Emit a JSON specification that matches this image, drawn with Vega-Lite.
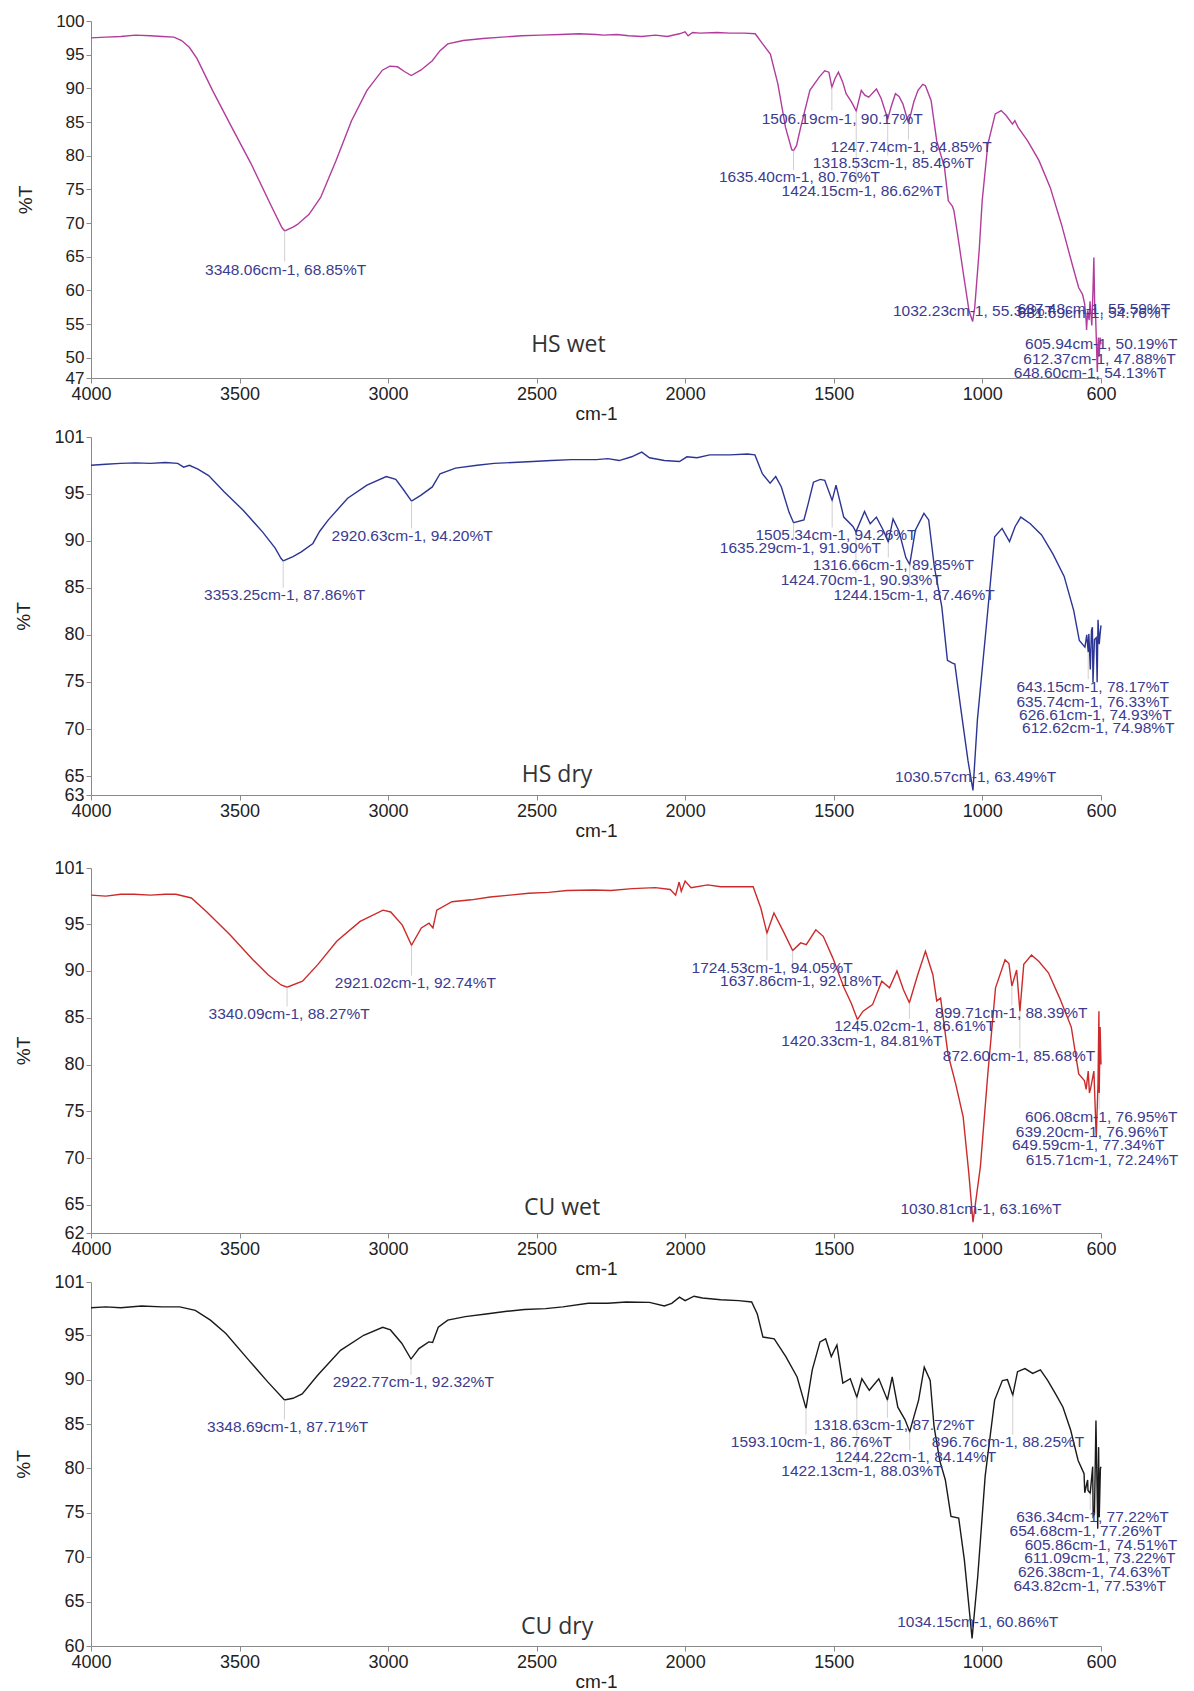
{
"$schema": "https://vega.github.io/schema/vega-lite/v6.json",
"padding": {"left": 14, "top": 12, "right": 5, "bottom": 0},
"background": "white",
"datasets": {
"p1": [{"wn":4000,"t":97.5},{"wn":3950,"t":97.6},{"wn":3900,"t":97.7},{"wn":3850,"t":97.9},{"wn":3800,"t":97.8},{"wn":3760,"t":97.7},{"wn":3721,"t":97.6},{"wn":3695,"t":97.1},{"wn":3669,"t":96.1},{"wn":3643,"t":94.4},{"wn":3591,"t":89.7},{"wn":3526,"t":84.2},{"wn":3461,"t":78.8},{"wn":3396,"t":72.8},{"wn":3357,"t":69.3},{"wn":3348,"t":68.85},{"wn":3320,"t":69.4},{"wn":3305,"t":69.8},{"wn":3266,"t":71.3},{"wn":3227,"t":73.8},{"wn":3175,"t":79.3},{"wn":3123,"t":85.2},{"wn":3071,"t":89.7},{"wn":3019,"t":92.7},{"wn":2994,"t":93.3},{"wn":2968,"t":93.2},{"wn":2945,"t":92.5},{"wn":2922,"t":91.9},{"wn":2890,"t":92.7},{"wn":2851,"t":94.1},{"wn":2825,"t":95.6},{"wn":2799,"t":96.6},{"wn":2747,"t":97.1},{"wn":2680,"t":97.4},{"wn":2617,"t":97.6},{"wn":2550,"t":97.8},{"wn":2487,"t":97.9},{"wn":2420,"t":98.0},{"wn":2357,"t":98.1},{"wn":2300,"t":98.0},{"wn":2274,"t":97.9},{"wn":2230,"t":98.0},{"wn":2190,"t":97.8},{"wn":2146,"t":97.7},{"wn":2100,"t":97.9},{"wn":2060,"t":97.7},{"wn":2019,"t":98.1},{"wn":2000,"t":98.4},{"wn":1990,"t":97.8},{"wn":1975,"t":98.3},{"wn":1950,"t":98.2},{"wn":1892,"t":98.3},{"wn":1850,"t":98.2},{"wn":1800,"t":98.2},{"wn":1764,"t":98.1},{"wn":1739,"t":96.6},{"wn":1713,"t":95.1},{"wn":1688,"t":90.7},{"wn":1662,"t":84.2},{"wn":1641,"t":80.9},{"wn":1635,"t":80.76},{"wn":1625,"t":81.5},{"wn":1611,"t":84.2},{"wn":1580,"t":89.7},{"wn":1548,"t":91.7},{"wn":1530,"t":92.6},{"wn":1516,"t":92.4},{"wn":1506,"t":90.17},{"wn":1495,"t":91.5},{"wn":1484,"t":92.4},{"wn":1470,"t":91.0},{"wn":1458,"t":89.2},{"wn":1440,"t":88.0},{"wn":1424,"t":86.62},{"wn":1407,"t":89.7},{"wn":1395,"t":89.0},{"wn":1382,"t":88.7},{"wn":1356,"t":89.9},{"wn":1340,"t":88.5},{"wn":1318,"t":85.46},{"wn":1305,"t":87.5},{"wn":1292,"t":89.2},{"wn":1280,"t":88.8},{"wn":1267,"t":87.7},{"wn":1248,"t":84.85},{"wn":1230,"t":88.0},{"wn":1216,"t":89.7},{"wn":1200,"t":90.6},{"wn":1191,"t":90.4},{"wn":1172,"t":88.2},{"wn":1153,"t":82.2},{"wn":1127,"t":78.3},{"wn":1114,"t":73.3},{"wn":1100,"t":72.5},{"wn":1095,"t":71.8},{"wn":1083,"t":68.4},{"wn":1063,"t":62.4},{"wn":1044,"t":56.9},{"wn":1032,"t":55.4},{"wn":1025,"t":57.5},{"wn":1019,"t":60.9},{"wn":1010,"t":66.0},{"wn":1000,"t":73.3},{"wn":981,"t":81.7},{"wn":956,"t":86.2},{"wn":936,"t":86.7},{"wn":920,"t":86.0},{"wn":898,"t":84.7},{"wn":890,"t":85.2},{"wn":879,"t":84.2},{"wn":847,"t":82.2},{"wn":809,"t":79.3},{"wn":771,"t":75.3},{"wn":733,"t":69.8},{"wn":694,"t":63.4},{"wn":675,"t":60.4},{"wn":662,"t":59.4},{"wn":655,"t":58.0},{"wn":650,"t":55.5},{"wn":648.6,"t":54.13},{"wn":645,"t":57.0},{"wn":640,"t":55.6},{"wn":637,"t":58.4},{"wn":631,"t":54.8},{"wn":627,"t":60.0},{"wn":624,"t":64.9},{"wn":621,"t":57.0},{"wn":618,"t":56.0},{"wn":612.4,"t":47.88},{"wn":609,"t":53.0},{"wn":606,"t":50.19},{"wn":603,"t":53.0},{"wn":600,"t":52.0}],
"p2": [{"wn":4000,"t":98.0},{"wn":3950,"t":98.1},{"wn":3900,"t":98.2},{"wn":3851,"t":98.25},{"wn":3800,"t":98.2},{"wn":3750,"t":98.3},{"wn":3708,"t":98.2},{"wn":3688,"t":97.8},{"wn":3669,"t":98.0},{"wn":3640,"t":97.6},{"wn":3604,"t":96.9},{"wn":3552,"t":95.2},{"wn":3487,"t":93.2},{"wn":3422,"t":90.9},{"wn":3380,"t":89.2},{"wn":3360,"t":88.1},{"wn":3353,"t":87.86},{"wn":3320,"t":88.3},{"wn":3292,"t":88.8},{"wn":3253,"t":89.7},{"wn":3230,"t":91.0},{"wn":3201,"t":92.2},{"wn":3136,"t":94.5},{"wn":3071,"t":95.9},{"wn":3006,"t":96.8},{"wn":2974,"t":96.5},{"wn":2948,"t":95.4},{"wn":2921,"t":94.2},{"wn":2890,"t":94.8},{"wn":2851,"t":95.7},{"wn":2825,"t":97.1},{"wn":2773,"t":97.7},{"wn":2700,"t":98.0},{"wn":2643,"t":98.2},{"wn":2580,"t":98.3},{"wn":2513,"t":98.4},{"wn":2450,"t":98.5},{"wn":2383,"t":98.6},{"wn":2299,"t":98.6},{"wn":2260,"t":98.7},{"wn":2222,"t":98.5},{"wn":2180,"t":98.9},{"wn":2146,"t":99.4},{"wn":2120,"t":98.8},{"wn":2070,"t":98.5},{"wn":2019,"t":98.4},{"wn":1994,"t":98.9},{"wn":1960,"t":98.8},{"wn":1917,"t":99.1},{"wn":1850,"t":99.1},{"wn":1790,"t":99.2},{"wn":1765,"t":99.1},{"wn":1740,"t":97.1},{"wn":1714,"t":96.1},{"wn":1695,"t":96.8},{"wn":1676,"t":95.7},{"wn":1650,"t":93.0},{"wn":1635,"t":91.9},{"wn":1600,"t":92.2},{"wn":1585,"t":94.0},{"wn":1568,"t":96.2},{"wn":1545,"t":96.5},{"wn":1530,"t":96.4},{"wn":1505,"t":94.26},{"wn":1492,"t":95.9},{"wn":1466,"t":92.5},{"wn":1435,"t":91.5},{"wn":1425,"t":90.93},{"wn":1396,"t":93.1},{"wn":1377,"t":91.8},{"wn":1356,"t":92.5},{"wn":1333,"t":91.1},{"wn":1316,"t":89.85},{"wn":1300,"t":92.3},{"wn":1280,"t":91.0},{"wn":1257,"t":88.2},{"wn":1244,"t":87.46},{"wn":1225,"t":91.1},{"wn":1196,"t":92.9},{"wn":1180,"t":92.2},{"wn":1161,"t":87.2},{"wn":1136,"t":83.0},{"wn":1117,"t":77.3},{"wn":1100,"t":77.0},{"wn":1092,"t":76.9},{"wn":1073,"t":72.4},{"wn":1048,"t":66.7},{"wn":1031,"t":63.49},{"wn":1016,"t":71.0},{"wn":984,"t":81.6},{"wn":958,"t":90.4},{"wn":933,"t":91.3},{"wn":908,"t":89.9},{"wn":889,"t":91.5},{"wn":870,"t":92.5},{"wn":838,"t":91.8},{"wn":800,"t":90.6},{"wn":762,"t":88.6},{"wn":724,"t":86.2},{"wn":692,"t":82.6},{"wn":673,"t":79.4},{"wn":654,"t":78.7},{"wn":648,"t":80.0},{"wn":643,"t":78.17},{"wn":641,"t":80.1},{"wn":636,"t":76.33},{"wn":632,"t":80.5},{"wn":629,"t":80.8},{"wn":627,"t":74.93},{"wn":622,"t":79.5},{"wn":616,"t":79.7},{"wn":613,"t":74.98},{"wn":610,"t":81.6},{"wn":606,"t":79.0},{"wn":603,"t":80.1},{"wn":600,"t":81.0}],
"p3": [{"wn":4000,"t":98.1},{"wn":3950,"t":98.0},{"wn":3900,"t":98.2},{"wn":3855,"t":98.2},{"wn":3800,"t":98.1},{"wn":3750,"t":98.2},{"wn":3714,"t":98.2},{"wn":3662,"t":97.8},{"wn":3610,"t":96.3},{"wn":3533,"t":93.9},{"wn":3455,"t":91.2},{"wn":3404,"t":89.6},{"wn":3360,"t":88.5},{"wn":3340,"t":88.27},{"wn":3288,"t":88.9},{"wn":3236,"t":90.7},{"wn":3172,"t":93.2},{"wn":3094,"t":95.3},{"wn":3017,"t":96.5},{"wn":2991,"t":96.3},{"wn":2952,"t":94.9},{"wn":2921,"t":92.74},{"wn":2888,"t":94.6},{"wn":2862,"t":95.1},{"wn":2849,"t":94.6},{"wn":2836,"t":96.5},{"wn":2785,"t":97.4},{"wn":2720,"t":97.6},{"wn":2656,"t":97.9},{"wn":2590,"t":98.1},{"wn":2527,"t":98.3},{"wn":2460,"t":98.4},{"wn":2397,"t":98.6},{"wn":2306,"t":98.65},{"wn":2250,"t":98.6},{"wn":2178,"t":98.8},{"wn":2100,"t":98.9},{"wn":2050,"t":98.7},{"wn":2032,"t":98.1},{"wn":2020,"t":99.5},{"wn":2013,"t":98.5},{"wn":2000,"t":99.6},{"wn":1980,"t":98.9},{"wn":1924,"t":99.2},{"wn":1880,"t":99.0},{"wn":1820,"t":99.0},{"wn":1771,"t":99.0},{"wn":1745,"t":96.7},{"wn":1724.5,"t":94.05},{"wn":1701,"t":96.2},{"wn":1669,"t":94.2},{"wn":1638,"t":92.18},{"wn":1611,"t":93.0},{"wn":1592,"t":92.8},{"wn":1560,"t":94.4},{"wn":1535,"t":93.7},{"wn":1503,"t":91.4},{"wn":1465,"t":88.2},{"wn":1440,"t":86.5},{"wn":1420,"t":84.81},{"wn":1401,"t":85.7},{"wn":1369,"t":86.4},{"wn":1338,"t":88.9},{"wn":1312,"t":88.2},{"wn":1287,"t":90.0},{"wn":1265,"t":88.0},{"wn":1245,"t":86.61},{"wn":1217,"t":89.6},{"wn":1191,"t":92.1},{"wn":1166,"t":89.6},{"wn":1153,"t":86.8},{"wn":1140,"t":87.1},{"wn":1115,"t":81.1},{"wn":1089,"t":77.9},{"wn":1064,"t":74.4},{"wn":1045,"t":68.4},{"wn":1031,"t":63.16},{"wn":1006,"t":69.1},{"wn":981,"t":79.0},{"wn":955,"t":88.2},{"wn":923,"t":91.2},{"wn":910,"t":90.8},{"wn":900,"t":88.39},{"wn":884,"t":90.1},{"wn":873,"t":85.68},{"wn":860,"t":90.7},{"wn":834,"t":91.7},{"wn":809,"t":91.0},{"wn":777,"t":89.8},{"wn":739,"t":87.1},{"wn":700,"t":84.0},{"wn":675,"t":79.0},{"wn":656,"t":78.3},{"wn":650,"t":77.34},{"wn":643,"t":79.3},{"wn":639,"t":76.96},{"wn":634,"t":77.6},{"wn":624,"t":79.3},{"wn":616,"t":72.24},{"wn":610,"t":78.0},{"wn":607,"t":85.7},{"wn":606,"t":76.95},{"wn":603,"t":84.0},{"wn":600,"t":80.0}],
"p4": [{"wn":4000,"t":98.1},{"wn":3950,"t":98.2},{"wn":3900,"t":98.1},{"wn":3830,"t":98.3},{"wn":3760,"t":98.2},{"wn":3701,"t":98.2},{"wn":3649,"t":97.8},{"wn":3598,"t":96.7},{"wn":3546,"t":95.2},{"wn":3469,"t":92.2},{"wn":3405,"t":89.75},{"wn":3348.7,"t":87.71},{"wn":3320,"t":87.9},{"wn":3289,"t":88.4},{"wn":3237,"t":90.5},{"wn":3160,"t":93.3},{"wn":3082,"t":95.0},{"wn":3018,"t":95.9},{"wn":2992,"t":95.6},{"wn":2954,"t":94.1},{"wn":2922.8,"t":92.32},{"wn":2896,"t":93.5},{"wn":2863,"t":94.25},{"wn":2850,"t":94.2},{"wn":2831,"t":95.9},{"wn":2799,"t":96.7},{"wn":2740,"t":97.1},{"wn":2670,"t":97.4},{"wn":2600,"t":97.7},{"wn":2541,"t":97.9},{"wn":2470,"t":98.0},{"wn":2412,"t":98.2},{"wn":2326,"t":98.6},{"wn":2260,"t":98.6},{"wn":2198,"t":98.75},{"wn":2120,"t":98.7},{"wn":2070,"t":98.3},{"wn":2045,"t":98.6},{"wn":2019,"t":99.3},{"wn":2000,"t":98.9},{"wn":1970,"t":99.4},{"wn":1942,"t":99.2},{"wn":1880,"t":99.0},{"wn":1820,"t":98.9},{"wn":1776,"t":98.75},{"wn":1757,"t":97.4},{"wn":1738,"t":94.8},{"wn":1700,"t":94.6},{"wn":1661,"t":92.6},{"wn":1623,"t":90.3},{"wn":1593,"t":86.76},{"wn":1572,"t":91.1},{"wn":1546,"t":94.25},{"wn":1527,"t":94.6},{"wn":1508,"t":92.6},{"wn":1489,"t":93.9},{"wn":1469,"t":89.6},{"wn":1444,"t":90.1},{"wn":1422,"t":88.03},{"wn":1405,"t":90.1},{"wn":1380,"t":88.8},{"wn":1348,"t":90.1},{"wn":1319,"t":87.72},{"wn":1303,"t":90.3},{"wn":1284,"t":86.9},{"wn":1260,"t":85.5},{"wn":1244,"t":84.14},{"wn":1214,"t":87.7},{"wn":1195,"t":91.4},{"wn":1175,"t":89.9},{"wn":1162,"t":84.7},{"wn":1143,"t":80.9},{"wn":1124,"t":78.7},{"wn":1105,"t":74.6},{"wn":1079,"t":74.4},{"wn":1060,"t":69.7},{"wn":1034,"t":60.86},{"wn":1015,"t":67.8},{"wn":990,"t":79.1},{"wn":958,"t":87.7},{"wn":932,"t":89.9},{"wn":915,"t":90.0},{"wn":897,"t":88.25},{"wn":881,"t":90.9},{"wn":856,"t":91.25},{"wn":830,"t":90.7},{"wn":804,"t":91.1},{"wn":779,"t":89.9},{"wn":753,"t":88.4},{"wn":728,"t":86.9},{"wn":702,"t":84.3},{"wn":677,"t":80.9},{"wn":657,"t":79.4},{"wn":654.7,"t":77.26},{"wn":645,"t":78.7},{"wn":643.8,"t":77.53},{"wn":636.3,"t":77.22},{"wn":628,"t":80.2},{"wn":626.4,"t":74.63},{"wn":622,"t":74.9},{"wn":617,"t":85.4},{"wn":611,"t":73.22},{"wn":608,"t":82.4},{"wn":605.9,"t":74.51},{"wn":602,"t":80.0},{"wn":600,"t":80.2}],
"l1": [{"label":"3348.06cm-1, 68.85%T","wn":3348,"pt":68.85,"lx":3345,"ly":63.1,"le":64.3},{"label":"1506.19cm-1, 90.17%T","wn":1506,"pt":90.17,"lx":1471,"ly":85.5,"le":86.7},{"label":"1247.74cm-1, 84.85%T","wn":1248,"pt":84.85,"lx":1239,"ly":81.25,"le":82.4},{"label":"1318.53cm-1, 85.46%T","wn":1318,"pt":85.46,"lx":1299,"ly":78.9,"le":80.0},{"label":"1635.40cm-1, 80.76%T","wn":1635,"pt":80.76,"lx":1615,"ly":76.8,"le":77.9},{"label":"1424.15cm-1, 86.62%T","wn":1424,"pt":86.62,"lx":1404,"ly":74.7,"le":75.8},{"label":"1032.23cm-1, 55.34%T","wn":1032,"pt":55.4,"lx":1029,"ly":56.9,"le":55.4},{"label":"637.48cm-1, 55.59%T","wn":637,"pt":58.4,"lx":624,"ly":57.2,"le":58.4},{"label":"631.69cm-1, 54.76%T","wn":631,"pt":54.8,"lx":624,"ly":56.7,"le":54.8},{"label":"605.94cm-1, 50.19%T","wn":606,"pt":50.19,"lx":599,"ly":52.0,"le":50.19},{"label":"612.37cm-1, 47.88%T","wn":612.4,"pt":47.88,"lx":605,"ly":49.75,"le":47.88},{"label":"648.60cm-1, 54.13%T","wn":648.6,"pt":54.13,"lx":637,"ly":47.8,"le":54.13}],
"l2": [{"label":"3353.25cm-1, 87.86%T","wn":3353,"pt":87.86,"lx":3348,"ly":84.2,"le":85.0},{"label":"2920.63cm-1, 94.20%T","wn":2921,"pt":94.2,"lx":2919,"ly":90.5,"le":91.3},{"label":"1505.34cm-1, 94.26%T","wn":1505,"pt":94.26,"lx":1492,"ly":90.6,"le":91.4},{"label":"1635.29cm-1, 91.90%T","wn":1635,"pt":91.9,"lx":1612,"ly":89.2,"le":90.0},{"label":"1316.66cm-1, 89.85%T","wn":1316,"pt":89.85,"lx":1299,"ly":87.4,"le":88.2},{"label":"1424.70cm-1, 90.93%T","wn":1425,"pt":90.93,"lx":1407,"ly":85.8,"le":86.6},{"label":"1244.15cm-1, 87.46%T","wn":1244,"pt":87.46,"lx":1229,"ly":84.2,"le":85.0},{"label":"643.15cm-1, 78.17%T","wn":643,"pt":78.17,"lx":628,"ly":74.5,"le":75.3},{"label":"635.74cm-1, 76.33%T","wn":636,"pt":76.33,"lx":628,"ly":72.9,"le":76.33},{"label":"626.61cm-1, 74.93%T","wn":627,"pt":74.93,"lx":619,"ly":71.5,"le":74.93},{"label":"612.62cm-1, 74.98%T","wn":613,"pt":74.98,"lx":609,"ly":70.1,"le":74.98},{"label":"1030.57cm-1, 63.49%T","wn":1031,"pt":63.49,"lx":1022,"ly":64.9,"le":63.49}],
"l3": [{"label":"3340.09cm-1, 88.27%T","wn":3340,"pt":88.27,"lx":3333,"ly":85.4,"le":86.2},{"label":"2921.02cm-1, 92.74%T","wn":2921,"pt":92.74,"lx":2908,"ly":88.7,"le":89.5},{"label":"1724.53cm-1, 94.05%T","wn":1724.5,"pt":94.05,"lx":1707,"ly":90.3,"le":91.1},{"label":"1637.86cm-1, 92.18%T","wn":1638,"pt":92.18,"lx":1611,"ly":88.9,"le":89.7},{"label":"899.71cm-1, 88.39%T","wn":900,"pt":88.39,"lx":902,"ly":85.5,"le":86.3},{"label":"1245.02cm-1, 86.61%T","wn":1245,"pt":86.61,"lx":1227,"ly":84.1,"le":84.9},{"label":"1420.33cm-1, 84.81%T","wn":1420,"pt":84.81,"lx":1405,"ly":82.5,"le":83.3},{"label":"872.60cm-1, 85.68%T","wn":873,"pt":85.68,"lx":876,"ly":80.9,"le":81.7},{"label":"606.08cm-1, 76.95%T","wn":606,"pt":76.95,"lx":599,"ly":74.4,"le":75.2},{"label":"639.20cm-1, 76.96%T","wn":639,"pt":76.96,"lx":630,"ly":72.8,"le":76.96},{"label":"649.59cm-1, 77.34%T","wn":650,"pt":77.34,"lx":643,"ly":71.4,"le":77.34},{"label":"615.71cm-1, 72.24%T","wn":616,"pt":72.24,"lx":597,"ly":69.8,"le":72.24},{"label":"1030.81cm-1, 63.16%T","wn":1031,"pt":63.16,"lx":1004,"ly":64.6,"le":63.16}],
"l4": [{"label":"3348.69cm-1, 87.71%T","wn":3348.7,"pt":87.71,"lx":3338,"ly":84.7,"le":85.5},{"label":"2922.77cm-1, 92.32%T","wn":2922.8,"pt":92.32,"lx":2915,"ly":89.75,"le":90.55},{"label":"1318.63cm-1, 87.72%T","wn":1319,"pt":87.72,"lx":1297,"ly":84.9,"le":85.7},{"label":"1593.10cm-1, 86.76%T","wn":1593,"pt":86.76,"lx":1575,"ly":83.0,"le":83.8},{"label":"896.76cm-1, 88.25%T","wn":897,"pt":88.25,"lx":913,"ly":83.0,"le":83.8},{"label":"1244.22cm-1, 84.14%T","wn":1244,"pt":84.14,"lx":1224,"ly":81.3,"le":82.1},{"label":"1422.13cm-1, 88.03%T","wn":1422,"pt":88.03,"lx":1405,"ly":79.7,"le":80.5},{"label":"636.34cm-1, 77.22%T","wn":636.3,"pt":77.22,"lx":629,"ly":74.5,"le":75.3},{"label":"654.68cm-1, 77.26%T","wn":654.7,"pt":77.26,"lx":651,"ly":72.9,"le":77.26},{"label":"605.86cm-1, 74.51%T","wn":605.9,"pt":74.51,"lx":600,"ly":71.4,"le":74.51},{"label":"611.09cm-1, 73.22%T","wn":611,"pt":73.22,"lx":604,"ly":69.9,"le":73.22},{"label":"626.38cm-1, 74.63%T","wn":626.4,"pt":74.63,"lx":623,"ly":68.3,"le":74.63},{"label":"643.82cm-1, 77.53%T","wn":643.8,"pt":77.53,"lx":638,"ly":66.8,"le":77.53},{"label":"1034.15cm-1, 60.86%T","wn":1034,"pt":60.86,"lx":1015,"ly":62.75,"le":60.86}]
},
"vconcat": [
{"spacing": 5, "vconcat": [
{"width": 1010, "height": 357, "layer": [
 {"data": {"name": "p1"}, "mark": {"type": "line", "color": "#b23c9c", "strokeWidth": 1.4}, "encoding": {
  "x": {"field": "wn", "type": "quantitative", "title": "cm-1", "scale": {"domain": [600, 4000], "reverse": true, "nice": false, "zero": false}, "axis": {"values": [4000,3500,3000,2500,2000,1500,1000,600], "format": "d"}},
  "y": {"field": "t", "type": "quantitative", "title": "%T", "scale": {"domain": [47, 100], "nice": false, "zero": false}, "axis": {"values": [47,50,55,60,65,70,75,80,85,90,95,100], "format": "d", "labelOverlap": false, "labelFlush": false, "labelFontSize": 17}}}},
 {"data": {"name": "l1"}, "mark": {"type": "rule", "color": "#c4c4c4", "strokeWidth": 0.8}, "encoding": {
  "x": {"field": "wn", "type": "quantitative", "title": "cm-1", "axis": {"values": [4000,3500,3000,2500,2000,1500,1000,600], "format": "d"}}, "y": {"field": "pt", "type": "quantitative", "title": "%T", "axis": {"values": [47,50,55,60,65,70,75,80,85,90,95,100], "format": "d", "labelOverlap": false, "labelFlush": false, "labelFontSize": 17}}, "x2": {"field": "wn"}, "y2": {"field": "le"}}},
 {"data": {"name": "l1"}, "mark": {"type": "text", "font": "Liberation Sans", "fontSize": 15.5, "color": "#3b3b8f", "align": "center", "baseline": "middle"}, "encoding": {
  "x": {"field": "lx", "type": "quantitative", "title": "cm-1", "axis": {"values": [4000,3500,3000,2500,2000,1500,1000,600], "format": "d"}}, "y": {"field": "ly", "type": "quantitative", "title": "%T", "axis": {"values": [47,50,55,60,65,70,75,80,85,90,95,100], "format": "d", "labelOverlap": false, "labelFlush": false, "labelFontSize": 17}}, "text": {"field": "label"}}},
 {"data": {"values": [{"lx": 2393, "ly": 51.9, "name": "HS wet"}]}, "mark": {"type": "text", "font": "Open Sans", "fontSize": 23, "color": "#333333", "align": "center", "baseline": "middle"}, "encoding": {
  "x": {"field": "lx", "type": "quantitative", "title": "cm-1", "axis": {"values": [4000,3500,3000,2500,2000,1500,1000,600], "format": "d"}}, "y": {"field": "ly", "type": "quantitative", "title": "%T", "axis": {"values": [47,50,55,60,65,70,75,80,85,90,95,100], "format": "d", "labelOverlap": false, "labelFlush": false, "labelFontSize": 17}}, "text": {"field": "name"}}}
]},
{"width": 1010, "height": 358, "layer": [
 {"data": {"name": "p2"}, "mark": {"type": "line", "color": "#2d3593", "strokeWidth": 1.4}, "encoding": {
  "x": {"field": "wn", "type": "quantitative", "title": "cm-1", "scale": {"domain": [600, 4000], "reverse": true, "nice": false, "zero": false}, "axis": {"values": [4000,3500,3000,2500,2000,1500,1000,600], "format": "d"}},
  "y": {"field": "t", "type": "quantitative", "title": "%T", "scale": {"domain": [63, 101], "nice": false, "zero": false}, "axis": {"values": [63,65,70,75,80,85,90,95,101], "format": "d"}}}},
 {"data": {"name": "l2"}, "mark": {"type": "rule", "color": "#c4c4c4", "strokeWidth": 0.8}, "encoding": {
  "x": {"field": "wn", "type": "quantitative", "title": "cm-1"}, "y": {"field": "pt", "type": "quantitative", "title": "%T"}, "x2": {"field": "wn"}, "y2": {"field": "le"}}},
 {"data": {"name": "l2"}, "mark": {"type": "text", "font": "Liberation Sans", "fontSize": 15.5, "color": "#3b3b8f", "align": "center", "baseline": "middle"}, "encoding": {
  "x": {"field": "lx", "type": "quantitative", "title": "cm-1"}, "y": {"field": "ly", "type": "quantitative", "title": "%T"}, "text": {"field": "label"}}},
 {"data": {"values": [{"lx": 2431, "ly": 65.1, "name": "HS dry"}]}, "mark": {"type": "text", "font": "Open Sans", "fontSize": 23, "color": "#333333", "align": "center", "baseline": "middle"}, "encoding": {
  "x": {"field": "lx", "type": "quantitative", "title": "cm-1"}, "y": {"field": "ly", "type": "quantitative", "title": "%T"}, "text": {"field": "name"}}}
]}
]},
{"spacing": -5, "vconcat": [
{"width": 1010, "height": 365, "layer": [
 {"data": {"name": "p3"}, "mark": {"type": "line", "color": "#cc2b2b", "strokeWidth": 1.4}, "encoding": {
  "x": {"field": "wn", "type": "quantitative", "title": "cm-1", "scale": {"domain": [600, 4000], "reverse": true, "nice": false, "zero": false}, "axis": {"values": [4000,3500,3000,2500,2000,1500,1000,600], "format": "d"}},
  "y": {"field": "t", "type": "quantitative", "title": "%T", "scale": {"domain": [62, 101], "nice": false, "zero": false}, "axis": {"values": [62,65,70,75,80,85,90,95,101], "format": "d"}}}},
 {"data": {"name": "l3"}, "mark": {"type": "rule", "color": "#c4c4c4", "strokeWidth": 0.8}, "encoding": {
  "x": {"field": "wn", "type": "quantitative", "title": "cm-1"}, "y": {"field": "pt", "type": "quantitative", "title": "%T"}, "x2": {"field": "wn"}, "y2": {"field": "le"}}},
 {"data": {"name": "l3"}, "mark": {"type": "text", "font": "Liberation Sans", "fontSize": 15.5, "color": "#3b3b8f", "align": "center", "baseline": "middle"}, "encoding": {
  "x": {"field": "lx", "type": "quantitative", "title": "cm-1"}, "y": {"field": "ly", "type": "quantitative", "title": "%T"}, "text": {"field": "label"}}},
 {"data": {"values": [{"lx": 2414, "ly": 64.7, "name": "CU wet"}]}, "mark": {"type": "text", "font": "Open Sans", "fontSize": 23, "color": "#333333", "align": "center", "baseline": "middle"}, "encoding": {
  "x": {"field": "lx", "type": "quantitative", "title": "cm-1"}, "y": {"field": "ly", "type": "quantitative", "title": "%T"}, "text": {"field": "name"}}}
]},
{"width": 1010, "height": 364, "layer": [
 {"data": {"name": "p4"}, "mark": {"type": "line", "color": "#1a1a1a", "strokeWidth": 1.4}, "encoding": {
  "x": {"field": "wn", "type": "quantitative", "title": "cm-1", "scale": {"domain": [600, 4000], "reverse": true, "nice": false, "zero": false}, "axis": {"values": [4000,3500,3000,2500,2000,1500,1000,600], "format": "d"}},
  "y": {"field": "t", "type": "quantitative", "title": "%T", "scale": {"domain": [60, 101], "nice": false, "zero": false}, "axis": {"values": [60,65,70,75,80,85,90,95,101], "format": "d"}}}},
 {"data": {"name": "l4"}, "mark": {"type": "rule", "color": "#c4c4c4", "strokeWidth": 0.8}, "encoding": {
  "x": {"field": "wn", "type": "quantitative", "title": "cm-1"}, "y": {"field": "pt", "type": "quantitative", "title": "%T"}, "x2": {"field": "wn"}, "y2": {"field": "le"}}},
 {"data": {"name": "l4"}, "mark": {"type": "text", "font": "Liberation Sans", "fontSize": 15.5, "color": "#3b3b8f", "align": "center", "baseline": "middle"}, "encoding": {
  "x": {"field": "lx", "type": "quantitative", "title": "cm-1"}, "y": {"field": "ly", "type": "quantitative", "title": "%T"}, "text": {"field": "label"}}},
 {"data": {"values": [{"lx": 2431, "ly": 62.1, "name": "CU dry"}]}, "mark": {"type": "text", "font": "Open Sans", "fontSize": 23, "color": "#333333", "align": "center", "baseline": "middle"}, "encoding": {
  "x": {"field": "lx", "type": "quantitative", "title": "cm-1"}, "y": {"field": "ly", "type": "quantitative", "title": "%T"}, "text": {"field": "name"}}}
]}
]}
],
"spacing": 19,
"config": {
 "view": {"stroke": null},
 "axis": {"grid": false, "labelFont": "Liberation Sans", "labelFontSize": 18, "labelColor": "#222222", "titleFont": "Liberation Sans", "titleFontSize": 19, "titleFontWeight": "normal", "titleColor": "#222222", "domainColor": "#8a8a8a", "tickColor": "#8a8a8a", "tickSize": 5, "labelPadding": 2, "labelOverlap": false, "labelFlush": false},
 "axisX": {"titlePadding": 1},
 "axisY": {"titlePadding": 20, "labelOverlap": false, "labelFlush": false}
}
}
